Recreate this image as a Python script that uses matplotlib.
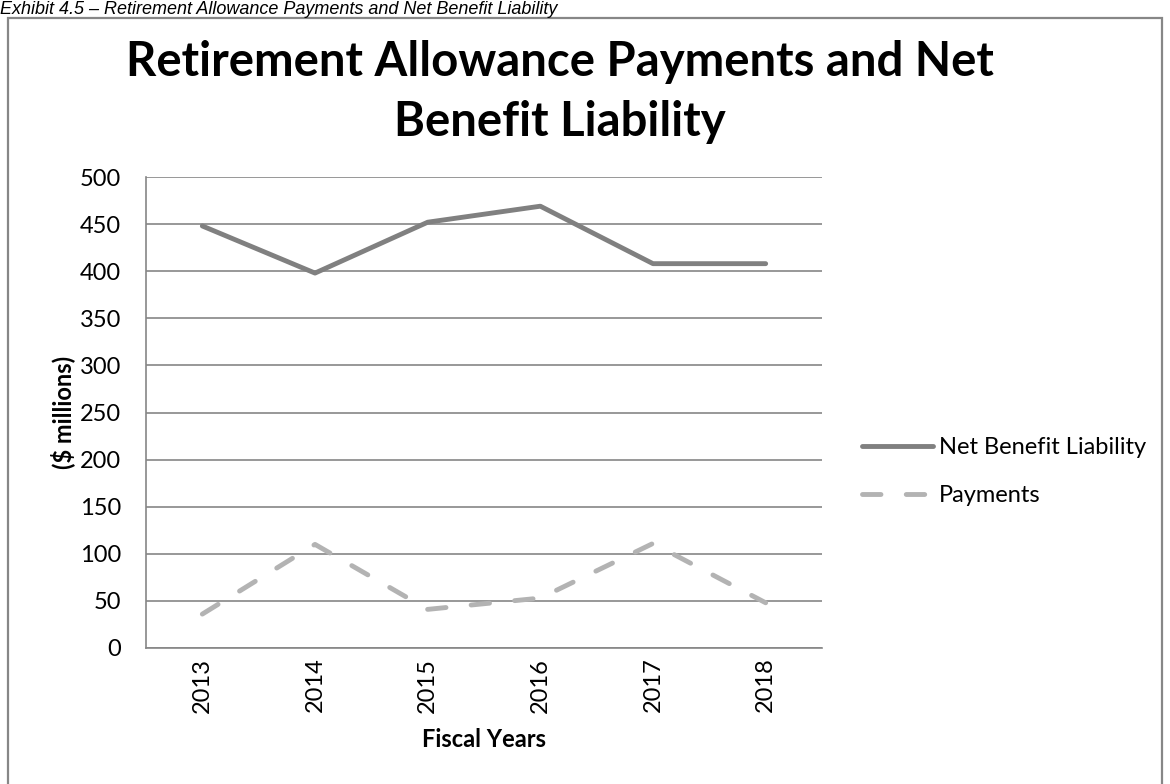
import matplotlib
matplotlib.use("Agg")
import matplotlib.pyplot as plt
from matplotlib.patches import Rectangle

years = ["2013", "2014", "2015", "2016", "2017", "2018"]
net_benefit = [448, 398, 452, 469, 408, 408]
payments = [36, 110, 41, 53, 111, 48]
y_ticks = [0, 50, 100, 150, 200, 250, 300, 350, 400, 450, 500]

title_lines = ["Retirement Allowance Payments and Net", "Benefit Liability"]
caption = "Exhibit 4.5 \u2013 Retirement Allowance Payments and Net Benefit Liability"

plt.rcParams['font.family'] = ['Lato', 'DejaVu Sans']

W, H = 1170, 784
fig = plt.figure(figsize=(W / 100, H / 100), dpi=100)

# chart border
fig.patches.append(Rectangle((8 / W, -0.05), (1162 - 8) / W, 1 - 18 / H + 0.05,
                             transform=fig.transFigure, fill=False,
                             edgecolor="#878787", linewidth=1.6))

fig.text(0.0, 1 - 14 / H, caption, fontsize=13, style="italic",
         family=["Liberation Sans", "DejaVu Sans"], ha="left", va="baseline",
         color="#000000")

ax = fig.add_axes([146 / W, 1 - 648 / H, (822 - 146) / W, (648 - 177) / H])
x = list(range(len(years)))
ax.plot(x, net_benefit, color="#808080", linewidth=3.5, solid_capstyle="round",
        solid_joinstyle="round", label="Net Benefit Liability", zorder=3)
ax.plot(x, payments, color="#b3b3b3", linewidth=3.5, linestyle=(0, (3.8, 5.2)),
        dash_capstyle="round", label="Payments", zorder=3)

ax.set_xlim(-0.5, len(years) - 0.5)
ax.set_ylim(0, 500)
ax.set_yticks(y_ticks)
ax.set_xticks(x)
ax.set_xticklabels(years, rotation=90)
ax.grid(axis="y", color="#868686", linewidth=1.2)
ax.set_axisbelow(True)
for s in ["top", "right"]:
    ax.spines[s].set_visible(False)
for s in ["left", "bottom"]:
    ax.spines[s].set_color("#868686")
    ax.spines[s].set_linewidth(1.2)
ax.tick_params(axis="y", length=0, labelsize=17, pad=18)
ax.tick_params(axis="x", length=0, labelsize=17, pad=7)

ax.set_ylabel("($ millions)", fontsize=17, fontweight="bold", labelpad=3)
ax.set_xlabel("Fiscal Years", fontsize=17, fontweight="bold", labelpad=11)

fig.text(560 / W, 1 - 62 / H, title_lines[0],
         fontsize=34, fontweight="bold", ha="center", va="center")
fig.text(560 / W, 1 - 122 / H, title_lines[1],
         fontsize=34, fontweight="bold", ha="center", va="center")

leg = fig.legend(loc="upper left", bbox_to_anchor=(862 / W, 1 - 437 / H),
                 frameon=False, fontsize=17, handlelength=3.0, handletextpad=0.25,
                 labelspacing=1.15, borderpad=0, borderaxespad=0)

fig.savefig("out.png", dpi=100)
